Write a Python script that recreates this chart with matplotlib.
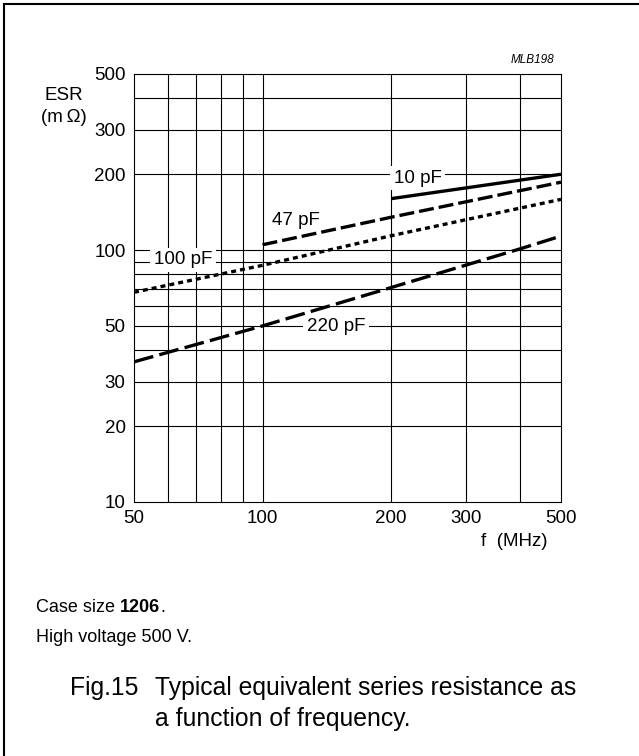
import matplotlib
matplotlib.use("Agg")
import matplotlib.pyplot as plt
from matplotlib.lines import Line2D

plt.rcParams['font.family'] = ['Liberation Sans', 'DejaVu Sans']
plt.rcParams['lines.scale_dashes'] = False

# values (f in MHz, ESR in mOhm)
f_10pf = [200, 500]
esr_10pf = [160, 200]
f_47pf = [100, 200, 500]
esr_47pf = [105, 135, 186]
f_100pf = [50, 100, 200, 500]
esr_100pf = [68, 87, 114, 159]
f_220pf = [50, 100, 200, 400, 486]
esr_220pf = [36, 50, 71, 101, 112]

xticks = [50, 100, 200, 300, 500]
yticks = [10, 20, 30, 50, 100, 200, 300, 500]
xgrid = [60, 70, 80, 90, 100, 200, 300, 400]
ygrid = [20, 30, 40, 50, 60, 70, 80, 90, 100, 200, 300, 400]

fig = plt.figure(figsize=(6.39, 7.56), dpi=100)
ax = fig.add_axes([134 / 639, 1 - 502 / 756, 427 / 639, 428 / 756])
ax.set_xscale('log')
ax.set_yscale('log')
ax.set_xlim(50, 500)
ax.set_ylim(10, 500)

for g in xgrid:
    ax.axvline(g, color='black', lw=0.8, zorder=1)
for g in ygrid:
    ax.axhline(g, color='black', lw=0.8, zorder=1)

lw = 2.4
ax.plot(f_10pf, esr_10pf, color='black', lw=lw, solid_capstyle='butt', zorder=3)
ax.plot(f_47pf, esr_47pf, color='black', lw=lw, dashes=(10.8, 3.6), zorder=3)
ax.plot(f_100pf, esr_100pf, color='black', lw=lw, dashes=(3.6, 2.9), zorder=3)
ax.plot(f_220pf, esr_220pf, color='black', lw=lw, dashes=(14.4, 4.5), zorder=3)

fs = 13.5
box = dict(facecolor='white', edgecolor='none', pad=2.5)
ax.text(203, 193, '10 pF', fontsize=fs, ha='left', va='center', bbox=box, zorder=2)
ax.text(105, 131, '47 pF', fontsize=fs, ha='left', va='center', zorder=2)
ax.text(55.6, 91.5, '100 pF', fontsize=fs, ha='left', va='center', bbox=box, zorder=2)
ax.text(127, 49.7, '220 pF', fontsize=fs, ha='left', va='center', bbox=box, zorder=2)

ax.set_xticks(xticks)
ax.set_xticklabels([str(t) for t in xticks])
ax.set_yticks(yticks)
ax.set_yticklabels([str(t) for t in yticks])
ax.minorticks_off()
ax.tick_params(length=0, labelsize=fs, pad=6)
for s in ax.spines.values():
    s.set_linewidth(0.8)

fig.text(64 / 639, 1 - 95 / 756, 'ESR', fontsize=fs, ha='center', va='center')
fig.text(64 / 639, 1 - 117 / 756, '(m\u2009\u03a9)', fontsize=fs, ha='center', va='center')
fig.text(554 / 639, 1 - 60 / 756, 'MLB198', fontsize=8.5, style='italic', ha='right', va='center')
fig.text(514 / 639, 1 - 542 / 756, 'f  (MHz)', fontsize=fs, ha='center', va='center')

# notes under the chart
r = fig.canvas.get_renderer()
t1 = fig.text(36 / 639, 1 - 608 / 756, 'Case size ', fontsize=13, va='center')
w1 = t1.get_window_extent(r).width / 639
t2 = fig.text(36 / 639 + w1, 1 - 608 / 756, '1206', fontsize=13, weight='bold', va='center')
w2 = t2.get_window_extent(r).width / 639
fig.text(36 / 639 + w1 + w2, 1 - 608 / 756, '.', fontsize=13, va='center')
fig.text(36 / 639, 1 - 637 / 756, 'High voltage 500 V.', fontsize=13, va='center')

fig.text(70 / 639, 1 - 688 / 756, 'Fig.15', fontsize=17.8, va='center')
fig.text(155 / 639, 1 - 688 / 756, 'Typical equivalent series resistance as', fontsize=17.8, va='center')
fig.text(155 / 639, 1 - 719 / 756, 'a function of frequency.', fontsize=17.8, va='center')

fig.add_artist(Line2D([4 / 639, 1], [1 - 4 / 756, 1 - 4 / 756], color='black', lw=1.5))
fig.add_artist(Line2D([4 / 639, 4 / 639], [0, 1 - 4 / 756], color='black', lw=1.5))

fig.savefig('out.png', dpi=100)
